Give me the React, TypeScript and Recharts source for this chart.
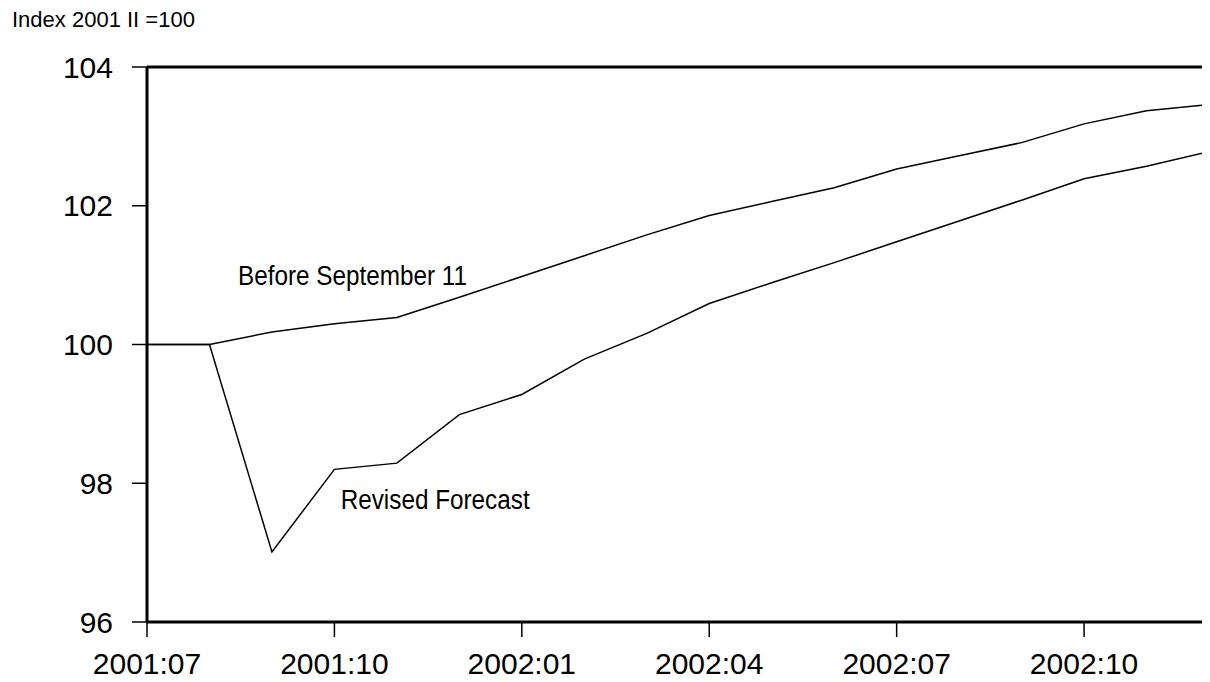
import React from "react";
import { LineChart, Line, XAxis, YAxis, ReferenceLine, ReferenceDot } from "recharts";

const months = [
  "2001:07", "2001:08", "2001:09", "2001:10", "2001:11", "2001:12",
  "2002:01", "2002:02", "2002:03", "2002:04", "2002:05", "2002:06",
  "2002:07", "2002:08", "2002:09", "2002:10", "2002:11", "2002:12",
];
const beforeSept11 = [
  100, 100, 100.18, 100.3, 100.39, 100.68, 100.98, 101.28, 101.58,
  101.86, 102.06, 102.26, 102.53, 102.72, 102.91, 103.18, 103.37, 103.46,
];
const revisedForecast = [
  100, 100, 97.01, 98.2, 98.29, 98.99, 99.28, 99.79, 100.16,
  100.59, 100.89, 101.18, 101.48, 101.78, 102.08, 102.39, 102.57, 102.78,
];
const xTickLabels = ["2001:07", "2001:10", "2002:01", "2002:04", "2002:07", "2002:10"];
const yTicks = [96, 98, 100, 102, 104];

const data = months.map((m, i) => ({
  idx: i,
  month: m,
  before: beforeSept11[i],
  revised: revisedForecast[i],
}));

const FONT = "'Liberation Sans', Arial, sans-serif";

// condensed-looking annotation text, anchored on the reference dot
const narrowLabel = (text: string) => (props: any) => {
  const vb = props?.viewBox || {};
  const x = vb.x ?? 0;
  const y = vb.y ?? 0;
  return (
    <text
      transform={`translate(${x},${y}) scale(0.9,1)`}
      dy="0.355em"
      fontSize={27}
      fontFamily={FONT}
      fill="#000"
    >
      {text}
    </text>
  );
};

const App = () => {
  const last = months.length - 1;
  return (
    <div style={{ position: "relative", width: 1202, height: 674 }}>
      <div
        style={{
          position: "absolute",
          left: 4,
          top: 1,
          fontFamily: FONT,
          fontSize: 22,
          lineHeight: 1,
          color: "#000",
          whiteSpace: "nowrap",
        }}
      >
        Index 2001 II =100
      </div>
      <LineChart
        width={1202}
        height={674}
        data={data}
        margin={{ top: 59, right: 1, left: 0, bottom: 0 }}
      >
        <XAxis
          dataKey="idx"
          type="number"
          domain={[0, last]}
          ticks={xTickLabels.map((t) => months.indexOf(t))}
          tickFormatter={(i: number) => months[i]}
          interval={0}
          height={60}
          tickSize={15}
          tickMargin={16}
          axisLine={{ stroke: "#000", strokeWidth: 3 }}
          tickLine={{ stroke: "#000", strokeWidth: 1.5 }}
          tick={{ fill: "#000", fontSize: 30, fontFamily: FONT }}
        />
        <YAxis
          type="number"
          domain={[96, 104]}
          ticks={yTicks}
          interval={0}
          width={139}
          tickSize={15}
          tickMargin={19}
          axisLine={{ stroke: "#000", strokeWidth: 3 }}
          tickLine={{ stroke: "#000", strokeWidth: 1.5 }}
          tick={{ fill: "#000", fontSize: 30, fontFamily: FONT }}
        />
        <ReferenceLine y={104} stroke="#000" strokeWidth={3} />
        <ReferenceLine x={last} stroke="#d4d4d4" strokeWidth={1} />
        <Line
          type="linear"
          dataKey="before"
          stroke="#000"
          strokeWidth={1.5}
          dot={false}
          isAnimationActive={false}
        />
        <Line
          type="linear"
          dataKey="revised"
          stroke="#000"
          strokeWidth={1.5}
          dot={false}
          isAnimationActive={false}
        />
        <ReferenceDot x={1.457} y={100.99} r={0} label={narrowLabel("Before September 11")} />
        <ReferenceDot x={3.1} y={97.76} r={0} label={narrowLabel("Revised Forecast")} />
      </LineChart>
    </div>
  );
};

export default App;
